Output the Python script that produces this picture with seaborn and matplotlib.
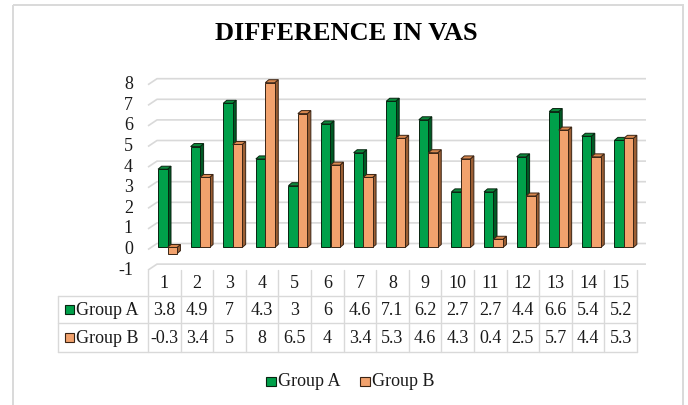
import matplotlib
matplotlib.use("Agg")
import matplotlib.pyplot as plt
from matplotlib.patches import Polygon, Rectangle
import seaborn as sns
import pandas as pd
import numpy as np

# ---------------- data ----------------
categories = [str(i) for i in range(1, 16)]
group_a = [3.8, 4.9, 7, 4.3, 3, 6, 4.6, 7.1, 6.2, 2.7, 2.7, 4.4, 6.6, 5.4, 5.2]
group_b = [-0.3, 3.4, 5, 8, 6.5, 4, 3.4, 5.3, 4.6, 4.3, 0.4, 2.5, 5.7, 4.4, 5.3]
series_names = ["Group A", "Group B"]
table_a_text = ["3.8", "4.9", "7", "4.3", "3", "6", "4.6", "7.1", "6.2", "2.7", "2.7", "4.4", "6.6", "5.4", "5.2"]
table_b_text = ["-0.3", "3.4", "5", "8", "6.5", "4", "3.4", "5.3", "4.6", "4.3", "0.4", "2.5", "5.7", "4.4", "5.3"]
y_ticks = [-1, 0, 1, 2, 3, 4, 5, 6, 7, 8]
title = "DIFFERENCE IN VAS"

df = pd.DataFrame({
    "cat": categories * 2,
    "value": group_a + group_b,
    "group": [series_names[0]] * 15 + [series_names[1]] * 15,
})

# ---------------- style ----------------
sns.set_theme(style="white")
plt.rcParams["font.family"] = ["Liberation Serif", "DejaVu Serif"]
TXT = "#1a1a1a"
GRID = "#d9d9d9"
front_cols = ["#00a04a", "#f2a26d"]
side_cols = ["#005a25", "#9c5f34"]
top_cols = ["#0b8a3c", "#d9884f"]
edge_cols = ["#082410", "#3a2414"]

W, H = 688, 405
DPI = 100
fig = plt.figure(figsize=(W / DPI, H / DPI), dpi=DPI)

# pixel geometry (from top-left)
PX_PER_CAT = 32.6
PX_PER_UNIT = 20.6
BAR0_X = 167.5       # pixel x of category 0 bar-pair centre
BASE_Y = 247.5       # pixel y of value 0 at bar base
AX_L, AX_R, AX_T, AX_B = 148, 646, 60, 270

def px2x(px):
    return (px - BAR0_X) / PX_PER_CAT

def py2y(py):
    return (BASE_Y - py) / PX_PER_UNIT

ax = fig.add_axes([AX_L / W, 1 - AX_B / H, (AX_R - AX_L) / W, (AX_B - AX_T) / H])

# bars (front faces) via seaborn
sns.barplot(data=df, x="cat", y="value", hue="group", order=categories,
            hue_order=series_names, palette=front_cols, width=0.58, gap=0,
            ax=ax, legend=False, saturation=1, errorbar=None)
ax.set_xlim(px2x(AX_L), px2x(AX_R))
ax.set_ylim(py2y(AX_B), py2y(AX_T))
ax.axis("off")

# gridlines on the back wall with perspective slant at left
slant_dx = 9 / PX_PER_CAT
slant_dy = 6 / PX_PER_UNIT
front_off_y = -2 / PX_PER_UNIT  # front plane sits 2px below bar base
x_front = px2x(148)
x_end = px2x(646)
for v in y_ticks:
    yf = v + front_off_y
    yb = yf + slant_dy
    ax.plot([x_front, x_front + slant_dx, x_end], [yf, yb, yb], color=GRID,
            lw=1.2, zorder=0.5, clip_on=False, solid_capstyle="butt")
    ax.text(px2x(133), yf, str(v), ha="right", va="center", fontsize=13,
            color=TXT, clip_on=False)

ddx = 3.5 / PX_PER_CAT
ddy = 3.0 / PX_PER_UNIT
bars = list(ax.patches)
n = len(categories)
for gi in range(2):
    for p in bars[gi * n:(gi + 1) * n]:
        x0 = p.get_x()
        w = p.get_width()
        h = p.get_height()
        y0, y1 = min(0, h), max(0, h)
        z = 2 + gi
        p.set_zorder(z + 0.1)
        p.set_edgecolor(edge_cols[gi])
        p.set_linewidth(0.7)
        side = Polygon([(x0 + w, y0), (x0 + w + ddx, y0 + ddy), (x0 + w + ddx, y1 + ddy), (x0 + w, y1)],
                       closed=True, facecolor=side_cols[gi], edgecolor=edge_cols[gi], lw=0.7, zorder=z)
        top = Polygon([(x0, y1), (x0 + ddx, y1 + ddy), (x0 + w + ddx, y1 + ddy), (x0 + w, y1)],
                      closed=True, facecolor=top_cols[gi], edgecolor=edge_cols[gi], lw=0.7, zorder=z)
        ax.add_patch(side)
        ax.add_patch(top)

# ---------------- overlay in pixel coordinates ----------------
ov = fig.add_axes([0, 0, 1, 1], zorder=-1)
ov.set_xlim(0, W)
ov.set_ylim(H, 0)
ov.axis("off")

# outer border (bottom edge falls outside the image, as in the reference)
ov.add_patch(Rectangle((13, 5), 683 - 13, 420 - 5, fill=False, edgecolor="#d9d9d9", lw=1.4, clip_on=True))

# title
ov.text(346, 34, title, ha="center", va="center", fontsize=19, fontweight="bold", color="#000000")

# data table
col_l = 148
col_w = PX_PER_CAT
col_r = col_l + col_w * 15
lab_l = 58
rows_y = [269.5, 296, 323, 352]
for i in range(16):
    xx = col_l + i * col_w
    ov.plot([xx, xx], [rows_y[0], rows_y[3]], color=GRID, lw=1.0)
ov.plot([lab_l, lab_l], [rows_y[1], rows_y[3]], color=GRID, lw=1.0)
for yy in rows_y[1:]:
    ov.plot([lab_l, col_r], [yy, yy], color=GRID, lw=1.0)

for i, c in enumerate(categories):
    cx = col_l + (i + 0.5) * col_w
    ov.text(cx, (rows_y[0] + rows_y[1]) / 2 + 1, c, ha="center", va="center", fontsize=13, color=TXT)
    ov.text(cx, (rows_y[1] + rows_y[2]) / 2 + 1, table_a_text[i], ha="center", va="center", fontsize=13, color=TXT)
    ov.text(cx, (rows_y[2] + rows_y[3]) / 2 + 1, table_b_text[i], ha="center", va="center", fontsize=13, color=TXT)

for ri, (name, fc, ec) in enumerate(zip(series_names, front_cols, edge_cols)):
    yc = (rows_y[1 + ri] + rows_y[2 + ri]) / 2
    ov.add_patch(Rectangle((65, yc - 4.5), 9, 9, facecolor=fc, edgecolor=ec, lw=0.8))
    ov.text(76, yc + 1, name, ha="left", va="center", fontsize=13, color=TXT)

# legend
leg_items = [(266, series_names[0], 0), (360, series_names[1], 1)]
for lx, name, gi in leg_items:
    ov.add_patch(Rectangle((lx, 376.5), 9.5, 9.5, facecolor=front_cols[gi], edgecolor=edge_cols[gi], lw=0.8))
    ov.text(lx + 12.5, 382, name, ha="left", va="center", fontsize=13, color=TXT)

fig.savefig("out.png", dpi=DPI)
